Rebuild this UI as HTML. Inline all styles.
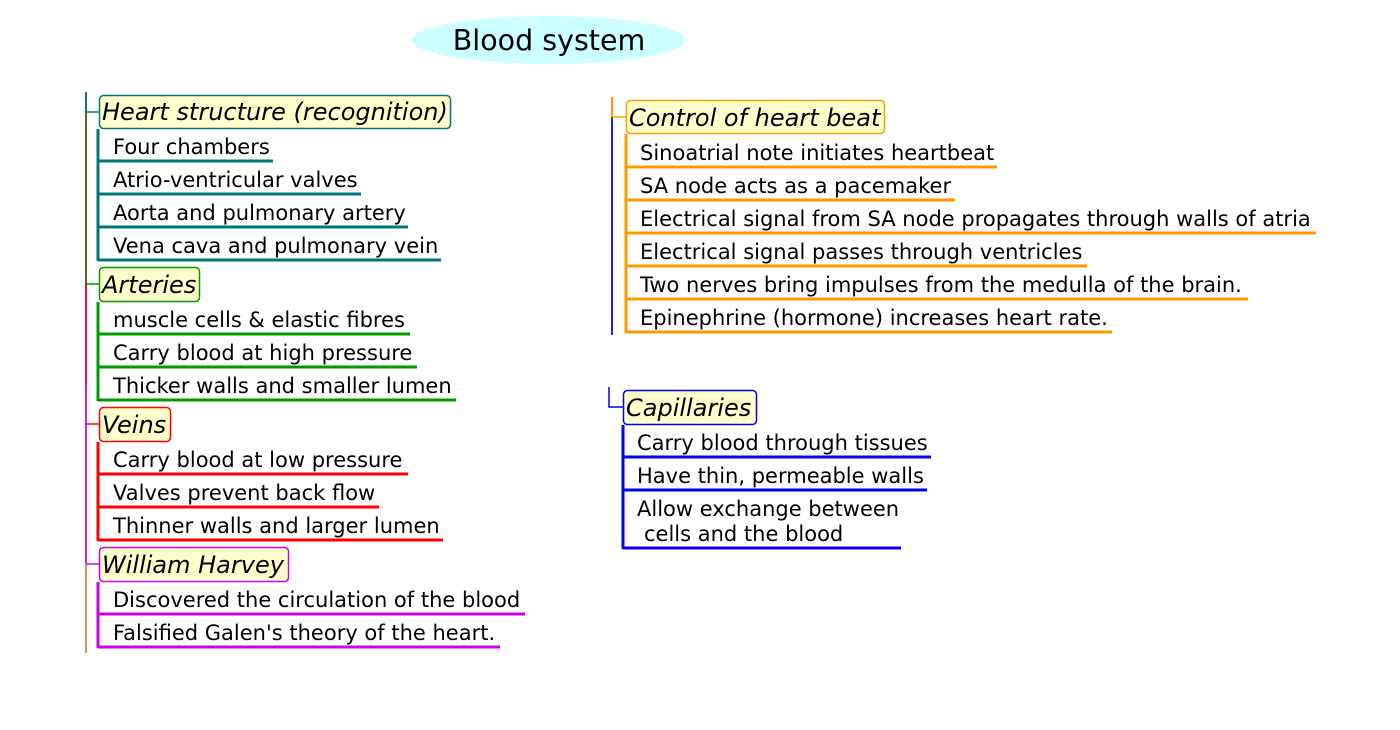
<!DOCTYPE html>
<html><head><meta charset="utf-8"><style>
html,body{margin:0;padding:0;background:#fff;width:1400px;height:730px;overflow:hidden}
svg{display:block}
text{font-family:"DejaVu Sans","Liberation Sans",sans-serif;fill:#000}
.t{font-size:24px;font-style:italic}
.i{font-size:21px}
</style></head><body>
<svg width="1400" height="730" viewBox="0 0 1400 730" xmlns="http://www.w3.org/2000/svg">
<ellipse cx="549" cy="40" rx="137" ry="24" fill="#ccffff"/>
<text x="549" y="50" font-size="28.5" text-anchor="middle">Blood system</text>

<line x1="86" y1="92" x2="86" y2="112" stroke="#1f7070" stroke-width="2"/>
<line x1="86" y1="112" x2="86" y2="283" stroke="#5a6a20" stroke-width="2"/>
<line x1="86" y1="283" x2="86" y2="385" stroke="#e8104a" stroke-width="2"/>
<line x1="86" y1="385" x2="86" y2="563" stroke="#cc22cc" stroke-width="2"/>
<line x1="86" y1="563" x2="86" y2="653" stroke="#e0904a" stroke-width="2"/>

<g stroke="#007777" fill="none">
<polyline points="86,112 99,112" stroke-width="1.5"/>
<line x1="98" y1="129" x2="98" y2="261" stroke-width="3"/>
<line x1="98" y1="161" x2="273" y2="161" stroke-width="3"/>
<line x1="98" y1="194" x2="361" y2="194" stroke-width="3"/>
<line x1="98" y1="227" x2="408" y2="227" stroke-width="3"/>
<line x1="98" y1="260" x2="441" y2="260" stroke-width="3"/>
<rect x="99.5" y="95.5" width="351" height="33" rx="4" fill="#ffffcc" stroke-width="1.5"/>
</g>
<text class="t" x="102" y="120">Heart structure (recognition)</text>
<text class="i" x="113" y="154">Four chambers</text>
<text class="i" x="113" y="187">Atrio-ventricular valves</text>
<text class="i" x="113" y="220">Aorta and pulmonary artery</text>
<text class="i" x="113" y="253">Vena cava and pulmonary vein</text>

<g stroke="#009900" fill="none">
<line x1="86" y1="284" x2="99" y2="284" stroke-width="1.5"/>
<line x1="98" y1="302" x2="98" y2="401" stroke-width="3"/>
<line x1="98" y1="334" x2="410" y2="334" stroke-width="3"/>
<line x1="98" y1="367" x2="417" y2="367" stroke-width="3"/>
<line x1="98" y1="400" x2="456" y2="400" stroke-width="3"/>
<rect x="99.5" y="267.5" width="100" height="34" rx="4" fill="#ffffcc" stroke-width="1.5"/>
</g>
<text class="t" x="102" y="293">Arteries</text>
<text class="i" x="113" y="327">muscle cells &amp; elastic fibres</text>
<text class="i" x="113" y="360">Carry blood at high pressure</text>
<text class="i" x="113" y="393">Thicker walls and smaller lumen</text>

<g stroke="#ff0000" fill="none">
<line x1="86" y1="424" x2="99" y2="424" stroke-width="1.5"/>
<line x1="98" y1="442" x2="98" y2="541" stroke-width="3"/>
<line x1="98" y1="474" x2="408" y2="474" stroke-width="3"/>
<line x1="98" y1="507" x2="379" y2="507" stroke-width="3"/>
<line x1="98" y1="540" x2="443" y2="540" stroke-width="3"/>
<rect x="99.5" y="407.5" width="71" height="34" rx="4" fill="#ffffcc" stroke-width="1.5"/>
</g>
<text class="t" x="102" y="433">Veins</text>
<text class="i" x="113" y="467">Carry blood at low pressure</text>
<text class="i" x="113" y="500">Valves prevent back flow</text>
<text class="i" x="113" y="533">Thinner walls and larger lumen</text>

<g stroke="#cc00ee" fill="none">
<line x1="86" y1="564" x2="99" y2="564" stroke-width="1.5"/>
<line x1="98" y1="582" x2="98" y2="648" stroke-width="3"/>
<line x1="98" y1="614" x2="525" y2="614" stroke-width="3"/>
<line x1="98" y1="647" x2="500" y2="647" stroke-width="3"/>
<rect x="99.5" y="547.5" width="189" height="34" rx="4" fill="#ffffcc" stroke-width="1.5"/>
</g>
<text class="t" x="102" y="573">William Harvey</text>
<text class="i" x="113" y="607">Discovered the circulation of the blood</text>
<text class="i" x="113" y="640">Falsified Galen's theory of the heart.</text>

<line x1="612" y1="97" x2="612" y2="117" stroke="#ff9900" stroke-width="2"/>
<line x1="612" y1="117" x2="612" y2="335" stroke="#2222dd" stroke-width="2"/>
<g stroke="#ff9900" fill="none">
<line x1="612" y1="117" x2="626" y2="117" stroke-width="1.5"/>
<line x1="626" y1="134" x2="626" y2="333" stroke-width="3"/>
<line x1="626" y1="167" x2="997" y2="167" stroke-width="3"/>
<line x1="626" y1="200" x2="955" y2="200" stroke-width="3"/>
<line x1="626" y1="233" x2="1316" y2="233" stroke-width="3"/>
<line x1="626" y1="266" x2="1087" y2="266" stroke-width="3"/>
<line x1="626" y1="299" x2="1248" y2="299" stroke-width="3"/>
<line x1="626" y1="332" x2="1112" y2="332" stroke-width="3"/>
<rect x="626.5" y="100.5" width="258" height="33" rx="4" fill="#ffffcc" stroke-width="1.5"/>
</g>
<text class="t" x="629" y="126">Control of heart beat</text>
<text class="i" x="640" y="160">Sinoatrial note initiates heartbeat</text>
<text class="i" x="640" y="193">SA node acts as a pacemaker</text>
<text class="i" x="640" y="226">Electrical signal from SA node propagates through walls of atria</text>
<text class="i" x="640" y="259">Electrical signal passes through ventricles</text>
<text class="i" x="640" y="292">Two nerves bring impulses from the medulla of the brain.</text>
<text class="i" x="640" y="325">Epinephrine (hormone) increases heart rate.</text>

<g stroke="#0000ee" fill="none">
<polyline points="609,387 609,407 623,407" stroke-width="1.5"/>
<line x1="623" y1="425" x2="623" y2="549" stroke-width="3"/>
<line x1="623" y1="457" x2="931" y2="457" stroke-width="3"/>
<line x1="623" y1="490" x2="927" y2="490" stroke-width="3"/>
<line x1="623" y1="548" x2="901" y2="548" stroke-width="3"/>
<rect x="623.5" y="390.5" width="133" height="34" rx="4" fill="#ffffcc" stroke-width="1.5"/>
</g>
<text class="t" x="626" y="416">Capillaries</text>
<text class="i" x="637" y="450">Carry blood through tissues</text>
<text class="i" x="637" y="483">Have thin, permeable walls</text>
<text class="i" x="637" y="516">Allow exchange between</text>
<text class="i" x="644" y="541">cells and the blood</text>
</svg>
</body></html>
